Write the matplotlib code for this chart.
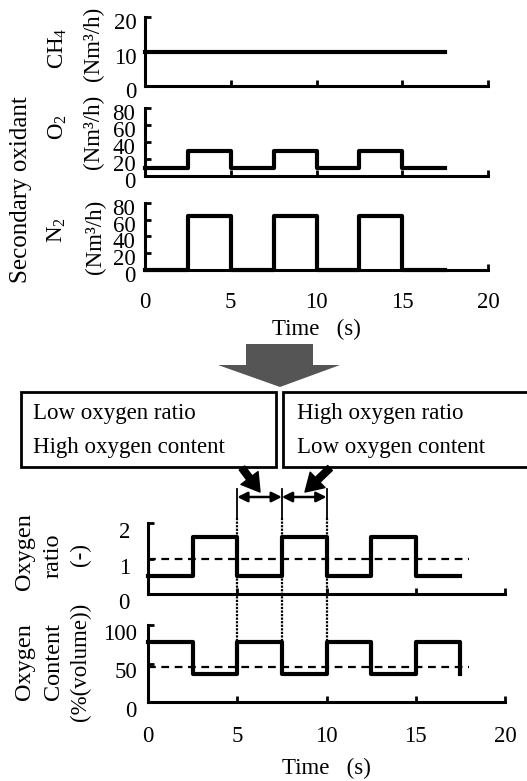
import matplotlib
matplotlib.use("Agg")
import matplotlib.pyplot as plt
from matplotlib.patches import Rectangle, Polygon, FancyArrowPatch
from matplotlib.transforms import ScaledTranslation, blended_transform_factory

plt.rcParams['font.family'] = ['Liberation Serif', 'DejaVu Serif']
plt.rcParams['mathtext.fontset'] = 'custom'
plt.rcParams['mathtext.rm'] = 'Liberation Serif'
plt.rcParams['mathtext.default'] = 'regular'

# ---- data ----
time_edges = [0, 2.5, 5, 7.5, 10, 12.5, 15, 17.5]
ch4_flow = [10, 10, 10, 10, 10, 10, 10]
o2_flow = [10, 30, 10, 30, 10, 30, 10]
n2_flow = [0, 65, 0, 65, 0, 65, 0]
oxygen_ratio = [0.5, 1.6, 0.5, 1.6, 0.5, 1.6, 0.5]
oxygen_content = [78, 37, 78, 37, 78, 37, 78]
content_end = 37
ratio_mean = 1.0
content_mean = 45
mean_span = [0, 18]
period_marks = [5, 7.5, 10]

x_ticks = [0, 5, 10, 15, 20]
ch4_ticks = [0, 10, 20]
flow_ticks = [0, 20, 40, 60, 80]
ratio_ticks = [0, 1, 2]
content_ticks = [0, 50, 100]

W, H = 527, 781
fig = plt.figure(figsize=(W / 100, H / 100), dpi=100)

FS = 16.5
LW = 3.0
TIME_LABEL = 'Time   (s)'


def px_axes(x0, y0, x1, y1):
    return fig.add_axes([x0 / W, 1 - y1 / H, (x1 - x0) / W, (y1 - y0) / H])


def fy(py):
    return 1 - py / H


def step_xy(edges, vals):
    return list(edges), list(vals) + [vals[-1]]


def style(ax, ylim, yticks, xlabels, ypad, ydrop, xpad):
    ax.set_xlim(0, 20)
    ax.set_ylim(*ylim)
    ax.set_xticks(x_ticks)
    ax.set_yticks(yticks)
    for s in ('top', 'right'):
        ax.spines[s].set_visible(False)
    for s in ('left', 'bottom'):
        ax.spines[s].set_linewidth(2.2)
    ax.tick_params(direction='in', length=4, width=2, labelsize=FS)
    ax.tick_params(axis='y', pad=ypad)
    ax.tick_params(axis='x', pad=xpad)
    if not xlabels:
        ax.set_xticklabels([])
    off = ScaledTranslation(0, -ydrop / 100, fig.dpi_scale_trans)
    for lab in ax.get_yticklabels():
        lab.set_transform(lab.get_transform() + off)
    ax.patch.set_alpha(0)


# ---- upper panels: secondary oxidant flows ----
ax_ch4 = px_axes(145, 17, 488, 86)
ax_o2 = px_axes(145, 108, 488, 176)
ax_n2 = px_axes(145, 203, 488, 270)

for ax, vals in ((ax_ch4, ch4_flow), (ax_o2, o2_flow), (ax_n2, n2_flow)):
    xs, ys = step_xy(time_edges, vals)
    ax.step(xs, ys, where='post', color='black', lw=LW, clip_on=False)

style(ax_ch4, (0, 20), ch4_ticks, False, 6, 4, 16)
style(ax_o2, (0, 80), flow_ticks, False, 7, 4, 16)
style(ax_n2, (0, 80), flow_ticks, True, 7, 4, 16)
ax_n2.set_xlabel(TIME_LABEL, fontsize=FS, labelpad=4)

# ---- lower panels: oxygen ratio and content ----
ax_r = px_axes(148, 523, 505, 594)
ax_c = px_axes(148, 625, 505, 702)

xs, ys = step_xy(time_edges, oxygen_ratio)
ax_r.step(xs, ys, where='post', color='black', lw=LW, clip_on=False)
ax_r.plot(mean_span, [ratio_mean] * 2, color='black', lw=1.6, ls=(0, (3.5, 2.5)))

xs, ys = step_xy(time_edges, oxygen_content)
xs = xs + [time_edges[-1]]
ys = ys[:-1] + [oxygen_content[-1], content_end]
ax_c.step(xs, ys, where='post', color='black', lw=LW, clip_on=False)
ax_c.plot(mean_span, [content_mean] * 2, color='black', lw=1.6, ls=(0, (3.5, 2.5)))

style(ax_r, (0, 2), ratio_ticks, False, 13, 7, 18)
style(ax_c, (0, 100), content_ticks, True, 8, 7, 17)
ax_c.set_xlabel(TIME_LABEL, fontsize=FS, labelpad=8)

# period guide lines through both lower panels
tr = blended_transform_factory(ax_r.transData, fig.transFigure)
for t in period_marks:
    fig.lines.append(plt.Line2D([t, t], [fy(489), fy(518)], transform=tr,
                                color='black', lw=1.3))
    fig.lines.append(plt.Line2D([t, t], [fy(518), fy(642)], transform=tr,
                                color='black', lw=1.6, ls=(0, (1, 0.6))))

for a, b in zip(period_marks[:-1], period_marks[1:]):
    fig.patches.append(FancyArrowPatch((a, fy(497)), (b, fy(497)), transform=tr,
                                       arrowstyle='<|-|>,head_length=6,head_width=3',
                                       color='black', lw=1.8, shrinkA=0, shrinkB=0))

# ---- side labels ----
def vlabel(text, x, y, size=FS):
    fig.text(x / W, fy(y), text, rotation=90, ha='center', va='center', fontsize=size)


vlabel('Secondary oxidant', 21, 190, 18)
vlabel('CH$_4$', 58, 48)
vlabel('(Nm\u00b3/h)', 93, 44)
vlabel('O$_2$', 58, 127)
vlabel('(Nm\u00b3/h)', 93, 132)
vlabel('N$_2$', 57, 230)
vlabel('(Nm\u00b3/h)', 95, 237)

vlabel('Oxygen', 25, 552, 17.5)
vlabel('ratio', 53, 556, 17.5)
vlabel('(-)', 80, 555)
vlabel('Oxygen', 25, 662, 17.5)
vlabel('Content', 53, 661, 17.5)
vlabel('(%(volume))', 80, 662)

# ---- transition arrow ----
arrow_pts = [(246, 344), (313, 344), (313, 365), (340, 365), (280, 387),
             (218, 365), (246, 365)]
fig.patches.append(Polygon([(x / W, fy(y)) for x, y in arrow_pts], closed=True,
                           transform=fig.transFigure, facecolor='#555555',
                           edgecolor='none'))

# ---- condition boxes ----
fig.patches.append(Rectangle((21 / W, fy(467)), (276 - 21) / W, (467 - 392) / H,
                             transform=fig.transFigure, facecolor='white',
                             edgecolor='black', lw=2))
fig.patches.append(Rectangle((283 / W, fy(467)), (540 - 283) / W, (467 - 392) / H,
                             transform=fig.transFigure, facecolor='white',
                             edgecolor='black', lw=2, clip_on=False))
fig.text(33 / W, fy(414), 'Low oxygen ratio', fontsize=FS, va='center')
fig.text(33 / W, fy(447), 'High oxygen content', fontsize=FS, va='center')
fig.text(297 / W, fy(414), 'High oxygen ratio', fontsize=FS, va='center')
fig.text(297 / W, fy(447), 'Low oxygen content', fontsize=FS, va='center')

for (x0, y0), (x1, y1) in (((242, 468), (260, 492)), ((330, 468), (305, 492))):
    fig.patches.append(FancyArrowPatch((x0 / W, fy(y0)), (x1 / W, fy(y1)),
                                       transform=fig.transFigure,
                                       arrowstyle='simple,head_width=1.1,head_length=0.9,tail_width=0.35',
                                       mutation_scale=14, color='black',
                                       shrinkA=0, shrinkB=0))

fig.savefig('out.png', dpi=100)
